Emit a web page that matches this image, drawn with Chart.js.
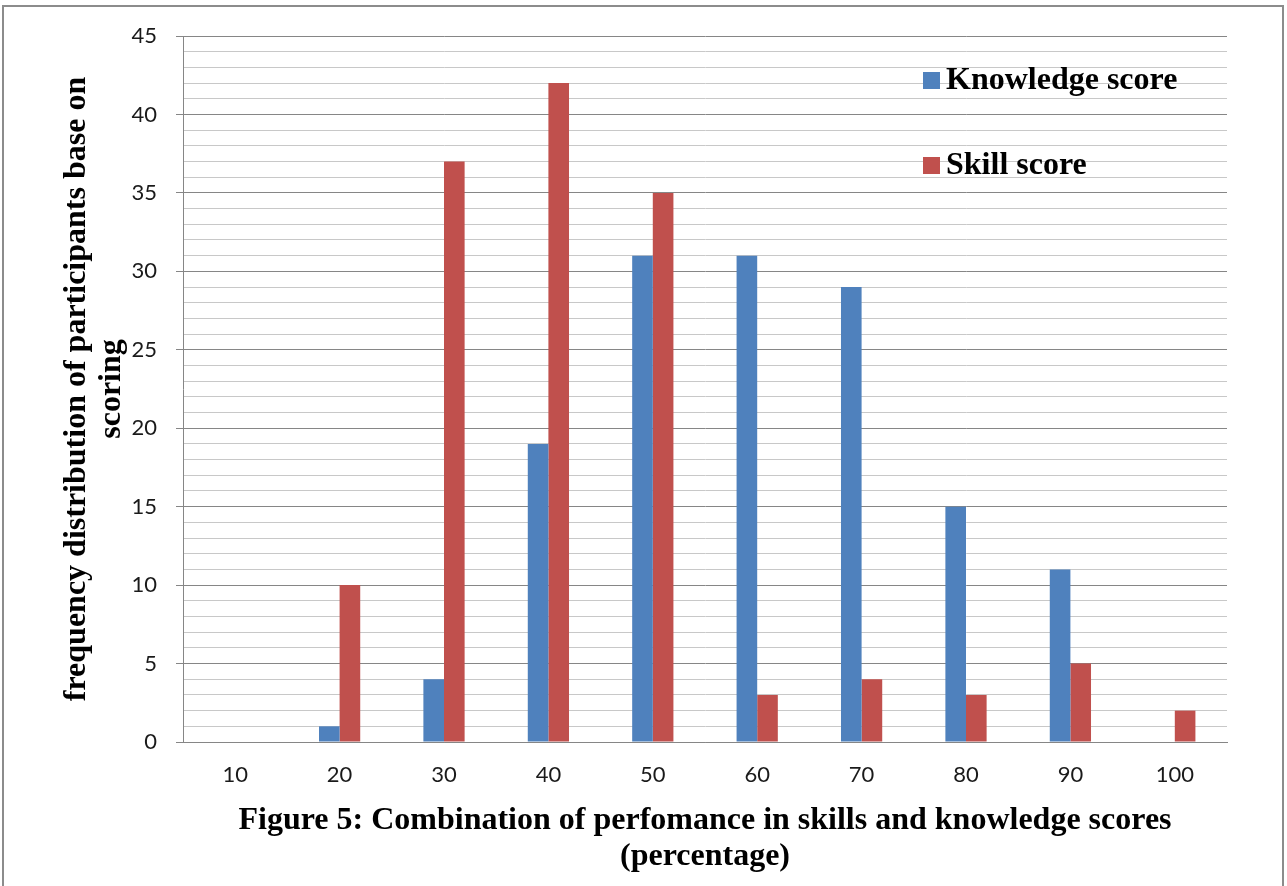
<!DOCTYPE html>
<html>
<head>
<meta charset="utf-8">
<script src="https://cdn.jsdelivr.net/npm/chart.js@4.4.0/dist/chart.umd.min.js"></script>
<style>
  html, body { margin: 0; padding: 0; background: #fff; }
  #wrap { width: 1287px; height: 886px; position: relative; }
</style>
</head>
<body>
<div id="wrap"><canvas id="c" width="1287" height="886"></canvas></div>
<script>
const categories = ['10', '20', '30', '40', '50', '60', '70', '80', '90', '100'];
const knowledgeScore = [0, 1, 4, 19, 31, 31, 29, 15, 11, 0];
const skillScore = [0, 10, 37, 42, 35, 3, 4, 3, 5, 2];
const seriesNames = ['Knowledge score', 'Skill score'];
const seriesColors = ['#4F81BD', '#C0504D'];
const yTitle = ['frequency distribution of participants base on', 'scoring'];
const xTitle = ['Figure 5: Combination of perfomance in skills and knowledge scores', '(percentage)'];

const serif = "'Liberation Serif', 'Times New Roman', serif";

const frameAndLegend = {
  id: 'frameAndLegend',
  beforeDraw(chart) {
    const ctx = chart.ctx;
    ctx.save();
    ctx.fillStyle = '#fff';
    ctx.fillRect(0, 0, chart.width, chart.height);
    ctx.restore();
  },
  afterDraw(chart) {
    const ctx = chart.ctx;
    ctx.save();
    ctx.strokeStyle = '#8c8c8c';
    ctx.lineWidth = 2;
    ctx.strokeRect(3, 6, 1280, 900);
    // legend
    const items = [{ y: 72 }, { y: 157 }];
    chart.data.datasets.forEach((ds, i) => {
      const it = items[i];
      ctx.fillStyle = ds.backgroundColor;
      ctx.fillRect(923, it.y, 17, 17);
      ctx.fillStyle = '#000';
      ctx.font = 'bold 32px ' + serif;
      ctx.textBaseline = 'middle';
      ctx.textAlign = 'left';
      ctx.fillText(ds.label, 946, it.y + 9);
    });
    ctx.restore();
  }
};

new Chart(document.getElementById('c'), {
  type: 'bar',
  data: {
    labels: categories,
    datasets: [
      { label: seriesNames[0], data: knowledgeScore, backgroundColor: seriesColors[0] },
      { label: seriesNames[1], data: skillScore, backgroundColor: seriesColors[1] }
    ]
  },
  options: {
    responsive: false,
    animation: false,
    devicePixelRatio: 1,
    layout: { padding: { left: 0, top: 36, right: 60, bottom: 0 } },
    plugins: {
      legend: { display: false },
      tooltip: { enabled: false }
    },
    datasets: {
      bar: { categoryPercentage: 0.395, barPercentage: 1.0 }
    },
    scales: {
      x: {
        grid: { display: false, drawTicks: false },
        border: { display: true, color: '#868686', width: 1 },
        ticks: {
          padding: 20,
          color: '#1a1a1a',
          font: { family: 'Lato', size: 22 },
          maxRotation: 0
        },
        title: {
          display: true,
          text: xTitle,
          color: '#000',
          font: { family: serif, size: 32, weight: 'bold', lineHeight: 1.1 },
          padding: { top: 0, bottom: 12 }
        },
        afterFit(scale) { scale.height = 144; }
      },
      y: {
        min: 0,
        max: 45,
        ticks: {
          stepSize: 1,
          autoSkip: false,
          padding: 19,
          color: '#1a1a1a',
          font: { family: 'Lato', size: 22 },
          callback: (v) => (v % 5 === 0 ? String(v) : '')
        },
        grid: {
          color: (c) => (c.tick && c.tick.value % 5 === 0 ? '#868686' : '#c8c8c8'),
          tickColor: (c) => (c.tick && c.tick.value % 5 === 0 ? '#868686' : 'rgba(0,0,0,0)'),
          tickLength: 7,
          lineWidth: 1
        },
        border: { display: true, color: '#868686', width: 1 },
        title: {
          display: true,
          text: yTitle,
          color: '#000',
          font: { family: serif, size: 32, weight: 'bold', lineHeight: 1.1 },
          padding: { top: 59, bottom: 0 }
        },
        afterFit(scale) { scale.width = 183; }
      }
    }
  },
  plugins: [frameAndLegend]
});
</script>
</body>
</html>
